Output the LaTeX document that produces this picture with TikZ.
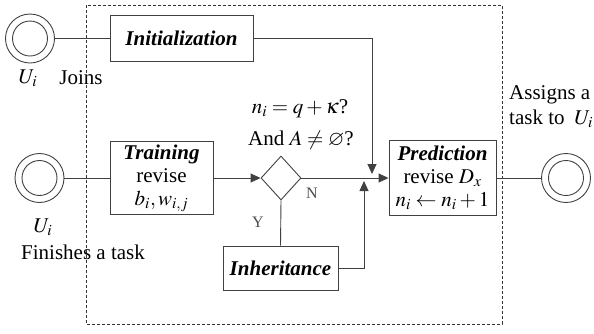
\documentclass[tikz,border=0pt]{standalone}
\usepackage{mathptmx}
\usepackage{amssymb}
\usepackage{fontspec}
\setmainfont{Liberation Serif}
\usetikzlibrary{shapes.geometric,arrows.meta}
\begin{document}
\begin{tikzpicture}[x=1pt,y=-1pt,
  every node/.style={font=\fontsize{21}{23}\selectfont, inner sep=0pt},
  ln/.style={draw=black!75, line width=0.9pt},
  arr/.style={ln, -{Triangle[length=10pt,width=9pt]}},
  box/.style={draw=black!75, line width=0.9pt, rectangle, align=center},
  term/.style={draw=black!75, line width=0.9pt, circle, minimum size=49pt,
    append after command={node[draw=black!75, line width=0.9pt, circle, minimum size=35pt] at (\tikzlastnode.center) {}}},
  yn/.style={font=\fontsize{16}{18}\selectfont, text=black!70}
]
\useasboundingbox (0,0) rectangle (594,333);
\draw[black!80, line width=0.7pt, dash pattern=on 3pt off 2pt] (86,5) rectangle (502,324);

\node[term] (c1) at (30,38.5) {};
\node[term] (c2) at (39.5,178) {};
\node[term] (c3) at (566,178) {};

\node[box, minimum width=143pt, minimum height=46pt] (init) at (181.5,38.5) {\textbf{\textit{Initialization}}};
\node[box, minimum width=103pt, minimum height=73pt] (train) at (161.5,178) {\textbf{\textit{Training}}\\revise\\$b_i, w_{i,j}$};
\node[draw=black!75, line width=0.9pt, diamond, minimum width=40pt, minimum height=44pt, aspect=1] (dia) at (281,178) {};
\node[box, minimum width=107pt, minimum height=75pt] (pred) at (442.5,178) {\textbf{\textit{Prediction}}\\revise $D_x$\\$n_i \leftarrow n_i + 1$};
\node[box, minimum width=115pt, minimum height=44pt] (inh) at (280.5,268) {\textbf{\textit{Inheritance}}};

\coordinate (tA) at (372,174);
\coordinate (tB) at (364,181);

\draw[ln] (c1.east) -- (init.west);
\draw[arr] (init.east) -| (tA);
\draw[ln] (c2.east) -- (train.west);
\draw[arr] (train.east) -- (dia.west);
\draw[arr] (dia.east) -- (pred.west);
\draw[ln] (dia.south) -- (inh.north);
\draw[arr] (inh.east) -| (tB);
\draw[ln] (pred.east) -- (c3.west);

\node (q1) at (300,109) {$n_i = q + \kappa$?};
\node (q2) at (301,140) {And $A \neq \varnothing$?};
\node[yn] (ly) at (258,222) {Y};
\node[yn] (lN) at (312,193) {N};

\node[anchor=west] (as1) at (509,95) {Assigns a};
\node[anchor=west] (as2) at (509,119) {task to $\;U_i$};

\node (u1) at (28,78) {$U_i$};
\node (jn) at (81,78) {Joins};
\node (u2) at (43,227) {$U_i$};
\node (fin) at (83,252) {Finishes a task};
\end{tikzpicture}
\end{document}
